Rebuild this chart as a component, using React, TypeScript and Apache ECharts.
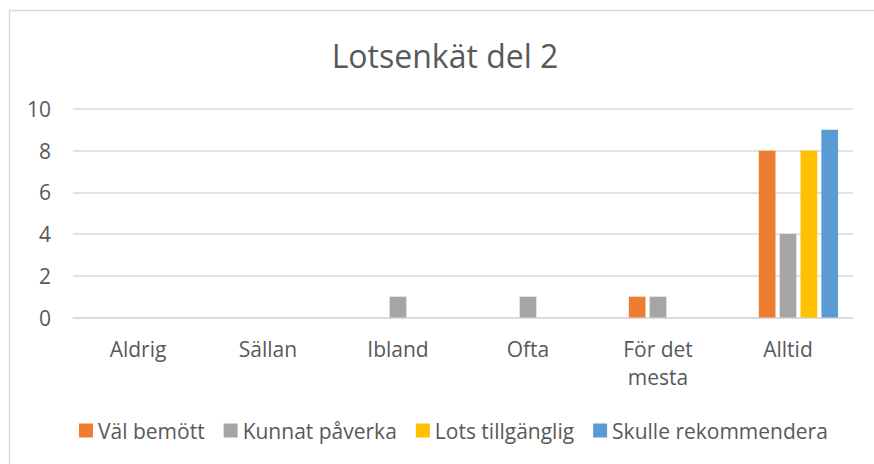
import React, { useEffect, useRef } from "react";
import * as echarts from "echarts";

const categories = ["Aldrig", "Sällan", "Ibland", "Ofta", "För det\nmesta", "Alltid"];
const placeholder = [null, null, null, null, null, null];
const valBemott = [0, 0, 0, 0, 1, 8];
const kunnatPaverka = [0, 0, 1, 1, 1, 4];
const lotsTillganglig = [0, 0, 0, 0, 0, 8];
const skulleRekommendera = [0, 0, 0, 0, 0, 9];
const seriesNames = ["Väl bemött", "Kunnat påverka", "Lots tillgänglig", "Skulle rekommendera"];
const seriesColors = ["#ED7D31", "#A5A5A5", "#FFC000", "#5B9BD5"];
const yTicks = { min: 0, max: 10, interval: 2 };
const titleText = "Lotsenkät del 2";

const FONT = "Open Sans";
const TEXT = "#595959";

export default function App() {
  const ref = useRef<HTMLDivElement>(null);
  useEffect(() => {
    const chart = echarts.init(ref.current!, null, { renderer: "svg" });
    const values = [valBemott, kunnatPaverka, lotsTillganglig, skulleRekommendera];
    const barCommon = { type: "bar" as const, barCategoryGap: "23%", barGap: "25%" };
    chart.setOption({
      animation: false,
      backgroundColor: "#ffffff",
      textStyle: { fontFamily: FONT },
      graphic: [
        {
          type: "rect",
          shape: { x: 9.5, y: 10.5, width: 900, height: 500 },
          style: { fill: "none", stroke: "#D9D9D9", lineWidth: 1.5 },
          silent: true,
        },
        {
          type: "text",
          x: 445,
          y: 55,
          style: {
            text: titleText,
            fontFamily: FONT,
            fontSize: 32,
            fill: TEXT,
            align: "center",
            verticalAlign: "middle",
          },
          silent: true,
        },
      ],
      legend: {
        data: seriesNames,
        bottom: 18,
        left: 74,
        itemWidth: 14,
        itemHeight: 14,
        itemGap: 19,
        icon: "rect",
        textStyle: { fontFamily: FONT, fontSize: 21, color: TEXT },
      },
      grid: { left: 73, right: 21, top: 109, bottom: 146.5, containLabel: false },
      xAxis: {
        type: "category",
        data: categories,
        axisLine: { lineStyle: { color: "#D9D9D9", width: 1.5 } },
        axisTick: { show: false },
        axisLabel: {
          fontFamily: FONT,
          fontSize: 21,
          color: TEXT,
          margin: 17,
          lineHeight: 28,
          interval: 0,
        },
      },
      yAxis: {
        type: "value",
        min: yTicks.min,
        max: yTicks.max,
        interval: yTicks.interval,
        axisLine: { show: false },
        axisTick: { show: false },
        splitLine: { lineStyle: { color: "#D9D9D9", width: 1.5 } },
        axisLabel: { fontFamily: FONT, fontSize: 21, color: TEXT, margin: 22 },
      },
      series: [
        { ...barCommon, name: "", data: placeholder, itemStyle: { color: "transparent" } },
        ...values.map((d, i) => ({
          ...barCommon,
          name: seriesNames[i],
          data: d,
          itemStyle: { color: seriesColors[i] },
        })),
      ],
    });
    return () => chart.dispose();
  }, []);
  return (
    <div
      ref={ref}
      style={{ position: "absolute", left: 0, top: 0, width: 874, height: 464 }}
    />
  );
}
